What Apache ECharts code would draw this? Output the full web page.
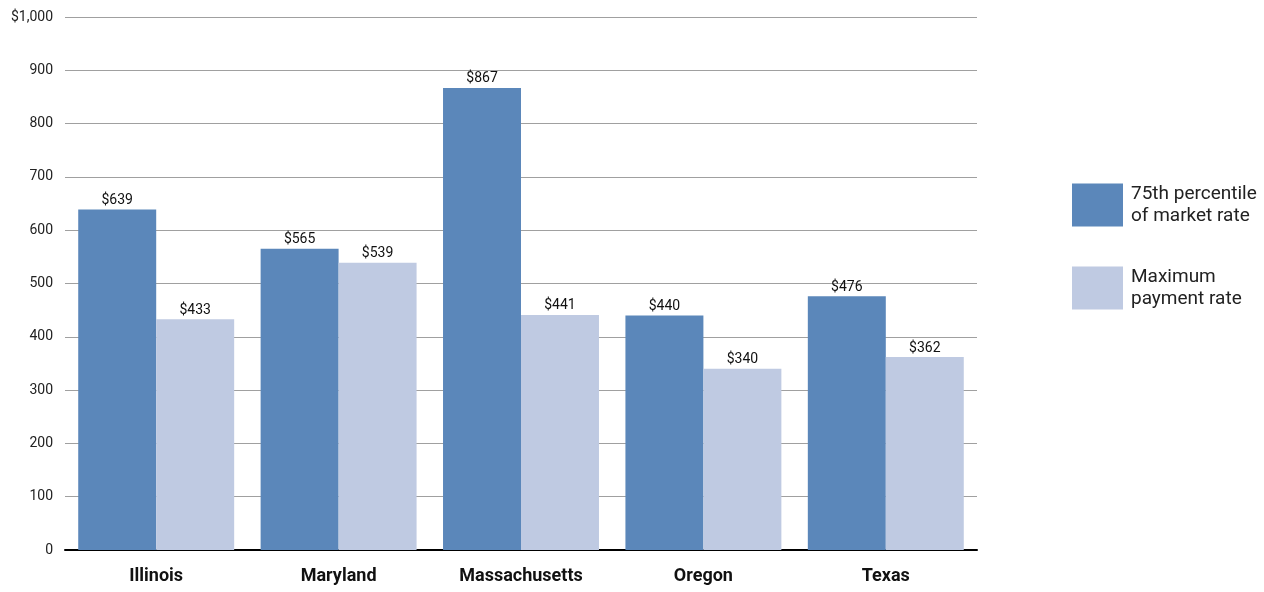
<!DOCTYPE html>
<html>
<head>
	<meta charset="UTF-8">
	<title></title>
	<script src="https://cdn.jsdelivr.net/npm/echarts@6/dist/echarts.min.js"></script>
	<style>body{margin:0;}</style>
</head>
<body>
	<div id="main" style="width:1264px;height:592px;"></div>
	<script type="text/javascript">
		var states = ['Illinois', 'Maryland', 'Massachusetts', 'Oregon', 'Texas'];
		var marketRate = [639, 565, 867, 440, 476];
		var maxPayment = [433, 539, 441, 340, 362];
		var seriesNames = ['75th percentile\nof market rate', 'Maximum\npayment rate'];

		var font = 'Roboto, "Liberation Sans", sans-serif';
		var myChart = echarts.init(document.getElementById('main'));

		var barLabel = {
			show: true,
			position: 'top',
			distance: 2,
			color: '#111',
			fontFamily: font,
			fontSize: 14,
			formatter: function (p) { return '$' + p.value; }
		};

		myChart.setOption({
			backgroundColor: '#fff',
			animation: false,
			grid: { left: 65, right: 287, top: 17, bottom: 42 },
			legend: {
				orient: 'vertical',
				left: 1072,
				top: 183,
				padding: 0,
				itemWidth: 51,
				itemHeight: 43,
				itemGap: 39,
				icon: 'rect',
				textStyle: { fontFamily: font, fontSize: 19, color: '#222', lineHeight: 22, padding: [0, 0, 0, 3] },
				data: seriesNames
			},
			xAxis: {
				type: 'category',
				data: states,
				axisLine: { lineStyle: { color: '#000', width: 2 } },
				axisTick: { show: false },
				axisLabel: { interval: 0, fontFamily: font, fontSize: 18, fontWeight: 'bold', color: '#111', margin: 17 }
			},
			yAxis: {
				type: 'value',
				min: 0,
				max: 1000,
				interval: 100,
				axisLine: { show: false },
				axisTick: { show: false },
				splitLine: { lineStyle: { color: '#a0a0a0', width: 1 } },
				axisLabel: {
					fontFamily: font, fontSize: 14, color: '#222', margin: 12,
					formatter: function (v) { return v === 1000 ? '$1,000' : v; }
				}
			},
			series: [{
				name: seriesNames[0],
				type: 'bar',
				data: marketRate,
				barGap: 0,
				barCategoryGap: '14.5%',
				itemStyle: { color: '#5b87ba' },
				label: barLabel
			}, {
				name: seriesNames[1],
				type: 'bar',
				data: maxPayment,
				itemStyle: { color: '#bfcae2' },
				label: barLabel
			}]
		});
	</script>
</body>
</html>
